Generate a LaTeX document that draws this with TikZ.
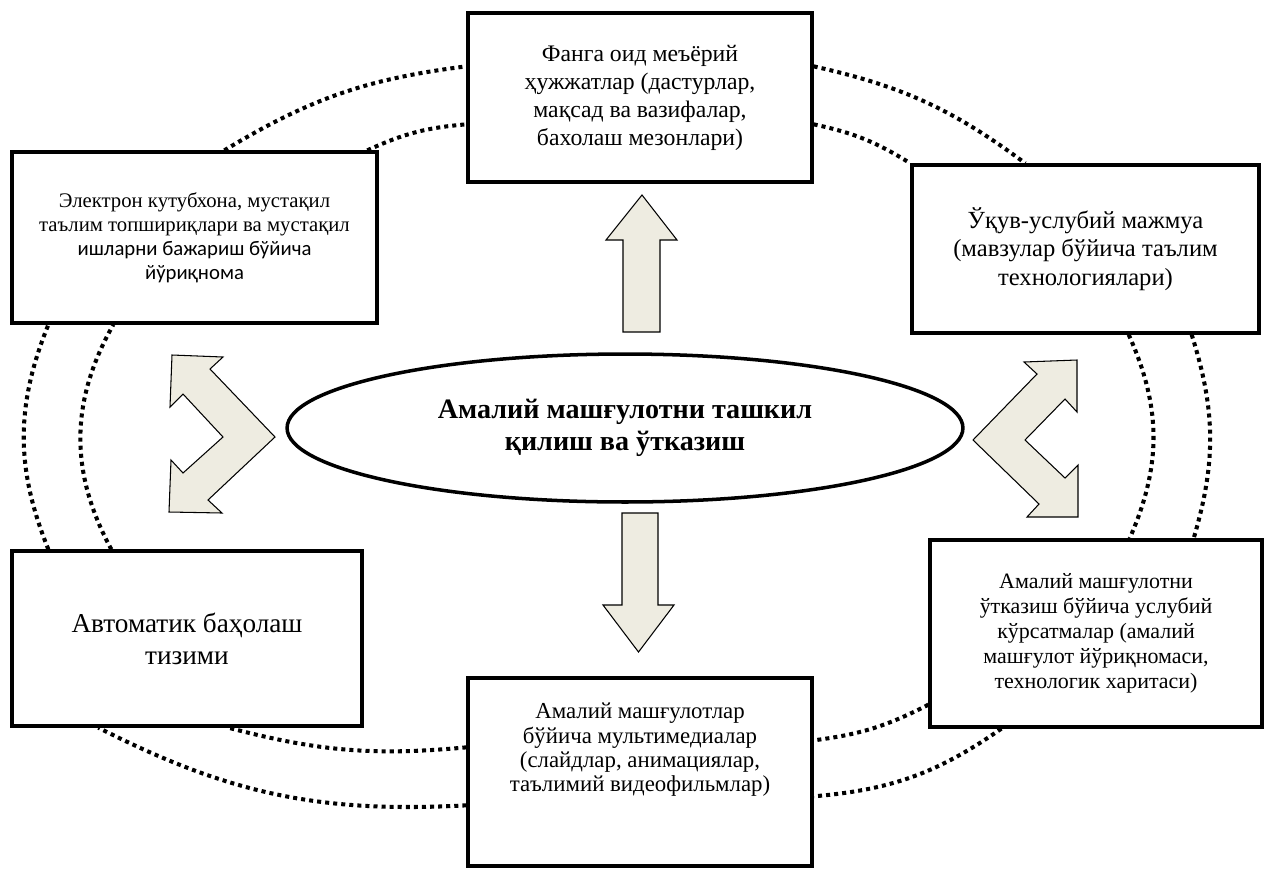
\documentclass[tikz,border=0pt]{standalone}
\usepackage{fontspec}
\setmainfont{Liberation Serif}
\newfontfamily\sanscal{Carlito}
\usetikzlibrary{shapes.geometric}
\definecolor{bgtan}{HTML}{EEECE1}
\tikzset{
  box/.style={draw, line width=1.9pt, align=center, inner sep=0pt},
  dotline/.style={line width=2.3pt, dash pattern=on 2.3pt off 2.3pt},
  blockarrow/.style={draw, fill=bgtan, line width=0.6pt},
}
\begin{document}
\begin{tikzpicture}[x=0.02cm, y=0.02cm]
\useasboundingbox (0,0) rectangle (1264,-873);
\node[draw, ellipse, line width=2pt, inner sep=0pt, minimum width=13.52cm, minimum height=2.96cm, align=center, font=\bfseries\fontsize{16}{18.5}\selectfont] (core) at (625,-428) {Амалий машғулотни ташкил\\ қилиш ва ўтказиш};
\node[box, minimum width=6.88cm, minimum height=3.38cm, font=\fontsize{13.5}{15.9}\selectfont] (norms) at (640,-97.5) {Фанга оид меъёрий\\ ҳужжатлар (дастурлар,\\ мақсад ва вазифалар,\\ бахолаш мезонлари)};
\node[box, minimum width=7.30cm, minimum height=3.42cm, font=\fontsize{11.8}{13.6}\selectfont] (library) at (194.5,-237.5) {Электрон кутубхона, мустақил\\ таълим топшириқлари ва мустақил\\ {\sanscal ишларни бажариш бўйича}\\ {\sanscal йўриқнома}};
\node[box, minimum width=6.94cm, minimum height=3.36cm, font=\fontsize{14}{16.4}\selectfont] (complex) at (1085.5,-249) {Ўқув-услубий мажмуа\\ (мавзулар бўйича таълим\\ технологиялари)};
\node[box, minimum width=7.00cm, minimum height=3.50cm, font=\fontsize{15.5}{18.1}\selectfont] (testing) at (187,-638.5) {Автоматик баҳолаш\\ тизими};
\node[box, minimum width=6.64cm, minimum height=3.74cm, font=\fontsize{12.5}{14.2}\selectfont] (guide) at (1096,-633.5) {Амалий машғулотни\\ ўтказиш бўйича услубий\\ кўрсатмалар (амалий\\ машғулот йўриқномаси,\\ технологик харитаси)};
\node[box, minimum width=6.88cm, minimum height=3.76cm, font=\fontsize{13}{13.9}\selectfont] (media) at (640,-772) {Амалий машғулотлар\\ бўйича мультимедиалар\\ (слайдлар, анимациялар,\\ таълимий видеофильмлар)\\[14pt]\mbox{}};
% dotted rings
\draw[dotline] ([xshift=4.28cm]library.north west) to[bend left=12] ([yshift=-1.1cm]norms.north west);
\draw[dotline] ([xshift=7.14cm]library.north west) to[bend left=10] ([yshift=-2.26cm]norms.north west);
\draw[dotline] ([yshift=-1.1cm]norms.north east) to[bend left=12] ([xshift=2.3cm]complex.north west);
\draw[dotline] ([yshift=-2.26cm]norms.north east) to[bend left=10] (complex.north west);
\draw[dotline] ([xshift=-2.64cm]complex.south east) to[bend left=24] ([xshift=-2.68cm]guide.north east);
\draw[dotline] ([xshift=-1.38cm]complex.south east) to[bend left=17] ([xshift=-1.4cm]guide.north east);
\draw[dotline] ([yshift=0.48cm]guide.south west) to[bend left=10] ([yshift=-1.28cm]media.north east);
\draw[dotline] ([xshift=1.46cm]guide.south west) to[bend left=15] ([yshift=-2.4cm]media.north east);
\draw[dotline] ([yshift=-1.42cm]media.north west) to[bend left=10] ([xshift=4.36cm]testing.south west);
\draw[dotline] ([yshift=-2.58cm]media.north west) to[bend left=15] ([xshift=1.76cm]testing.south west);
\draw[dotline] ([xshift=0.76cm]testing.north west) to[bend left=22] ([xshift=0.76cm]library.south west);
\draw[dotline] ([xshift=2.02cm]testing.north west) to[bend left=29] ([xshift=2.06cm]library.south west);
% block arrows
\draw[blockarrow] (642,-195) -- (677,-240) -- (660,-240) -- (660,-332) -- (623,-332) -- (623,-240) -- (606,-240) -- cycle;
\draw[blockarrow] (638.5,-652) -- (674,-605) -- (658,-605) -- (658,-513) -- (622,-513) -- (622,-605) -- (603,-605) -- cycle;
\draw[blockarrow] (172,-355) -- (223,-357) -- (210,-369) -- (275,-437) -- (208,-500) -- (222,-513) -- (169,-512) -- (171,-460) -- (183,-473) -- (223,-437) -- (183,-394) -- (170,-407) -- cycle;
\draw[blockarrow] (1077,-360) -- (1077,-412) -- (1065,-399) -- (1025,-440) -- (1065,-478) -- (1078,-465) -- (1078,-517) -- (1027,-517) -- (1039,-504) -- (973,-440) -- (1037,-374) -- (1024,-362) -- cycle;
\end{tikzpicture}
\end{document}
